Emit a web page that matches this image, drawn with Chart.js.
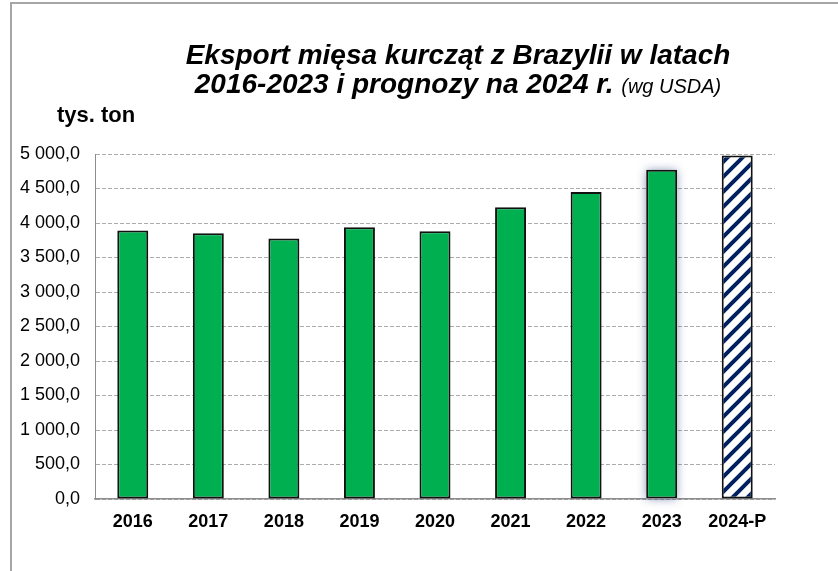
<!DOCTYPE html>
<html lang="pl">
<head>
<meta charset="utf-8">
<title>Eksport mięsa kurcząt z Brazylii</title>
<script src="https://cdn.jsdelivr.net/npm/chart.js@4.4.1/dist/chart.umd.min.js"></script>
<style>
  html, body { margin: 0; padding: 0; background: #fff; }
  #wrap { position: relative; width: 838px; height: 571px; overflow: hidden; font-family: "Liberation Sans", Arial, sans-serif; color: #000; }
  #frame { position: absolute; left: 10px; top: 2px; width: 900px; height: 700px; border-left: 2px solid #a6a6a6; border-top: 2px solid #a6a6a6; }
  .t { position: absolute; left: 158px; width: 600px; text-align: center; white-space: nowrap; font-weight: bold; font-style: italic; font-size: 28px; line-height: 28px; }
  #t1 { top: 41px; }
  #t2 { top: 70px; }
  #t2 span { font-weight: normal; font-size: 20px; }
  #unit { position: absolute; left: 57px; top: 104px; font-weight: bold; font-size: 22px; line-height: 22px; }
  #chart { position: absolute; left: 0; top: 0; }
</style>
</head>
<body>
<div id="wrap">
  <div id="frame"></div>
  <canvas id="chart" width="838" height="571"></canvas>
  <div class="t" id="t1">Eksport mięsa kurcząt z Brazylii w latach</div>
  <div class="t" id="t2">2016-2023 i prognozy na 2024 r. <span>(wg USDA)</span></div>
  <div id="unit">tys. ton</div>
</div>
<script>
// dane (tys. ton)
const lata = ["2016", "2017", "2018", "2019", "2020", "2021", "2022", "2023", "2024-P"];
const eksport = [3890, 3850, 3775, 3940, 3880, 4230, 4450, 4770, 4980];
const osY = { min: 0, max: 5000, krok: 500 };

const ZIELONY = "#00B050";
const GRANAT = "#002060";

// kreskowanie dla prognozy
function kreski(kolor) {
    const s = 15;
    const c = document.createElement("canvas");
    c.width = s; c.height = s;
    const g = c.getContext("2d");
    g.fillStyle = "#fff";
    g.fillRect(0, 0, s, s);
    g.strokeStyle = kolor;
    g.lineWidth = 4;
    g.beginPath();
    g.moveTo(0, s); g.lineTo(s, 0);
    g.moveTo(-s / 2, s / 2); g.lineTo(s / 2, -s / 2);
    g.moveTo(s / 2, s * 1.5); g.lineTo(s * 1.5, s / 2);
    g.stroke();
    return g.createPattern(c, "repeat");
}

// format "5 000,0"
function fmt(v) {
    const [a, b] = v.toFixed(1).split(".");
    return a.replace(/\B(?=(\d{3})+(?!\d))/g, " ") + "," + b;
}

const kolory = lata.map((l, i) => i === lata.length - 1 ? kreski(GRANAT) : ZIELONY);

// lekka poświata przy słupku 2023
const cien = {
    id: "cien",
    beforeDatasetsDraw(chart) {
        const bar = chart.getDatasetMeta(0).data[7];
        if (!bar) return;
        const ctx = chart.ctx;
        ctx.save();
        ctx.shadowColor = "rgba(31, 56, 120, 0.55)";
        ctx.shadowBlur = 9;
        ctx.fillStyle = "#fff";
        ctx.fillRect(bar.x - bar.width / 2, bar.y, bar.width, bar.base - bar.y);
        ctx.restore();
    }
};

new Chart(document.getElementById("chart").getContext("2d"), {
    type: "bar",
    data: {
        labels: lata,
        datasets: [{
            data: eksport,
            backgroundColor: kolory,
            borderColor: "#111",
            borderWidth: 2,
            borderSkipped: false,
            barPercentage: 0.82,
            categoryPercentage: 0.5
        }]
    },
    options: {
        responsive: false,
        animation: false,
        events: [],
        layout: { padding: { top: 154, right: 63, left: 0, bottom: 0 } },
        plugins: {
            legend: { display: false },
            tooltip: { enabled: false },
            title: { display: false }
        },
        scales: {
            x: {
                grid: { display: false, drawTicks: false },
                border: { display: true, color: "#8c8c8c", width: 1.5 },
                ticks: {
                    padding: 12,
                    color: "#000",
                    font: { family: "Liberation Sans", size: 18, weight: "bold" }
                },
                afterFit(s) { s.height = 72; }
            },
            y: {
                min: osY.min,
                max: osY.max,
                grid: { color: "#ababab", lineWidth: 1, drawTicks: false },
                border: { display: true, color: "#8c8c8c", width: 1, dash: [4, 2] },
                ticks: {
                    stepSize: osY.krok,
                    padding: 15,
                    color: "#000",
                    font: { family: "Liberation Sans", size: 18 },
                    callback: v => fmt(v)
                },
                afterFit(s) { s.width = 95; }
            }
        }
    },
    plugins: [cien]
});
</script>
</body>
</html>
